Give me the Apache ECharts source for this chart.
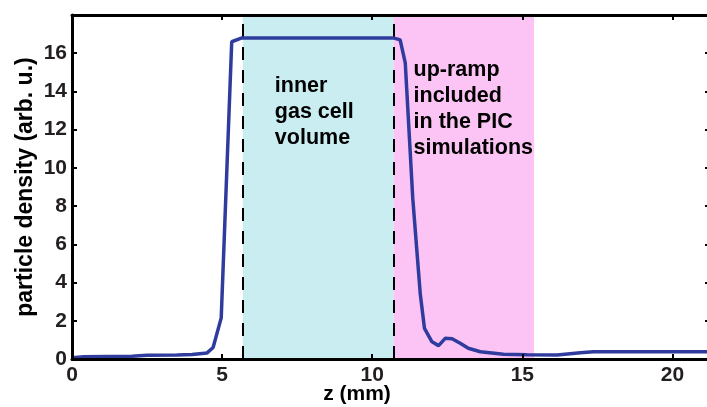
<!DOCTYPE html>
<html>
<head>
<meta charset="utf-8">
<script src="https://cdn.jsdelivr.net/npm/echarts@6/dist/echarts.min.js"></script>
<style>
  html, body { margin: 0; padding: 0; background: #fff; }
  #chart { width: 707px; height: 407px; }
</style>
</head>
<body>
<div id="chart"></div>
<script>
// density profile along z (mm)
const zValues = [0, 0.4, 2.0, 2.5, 3.5, 4.0, 4.5, 4.7, 4.97, 5.32, 5.66, 10.7, 10.93, 11.1, 11.35, 11.6, 11.74, 11.99, 12.21, 12.43, 12.66, 12.93, 13.2, 13.6, 14.37, 15.15, 16.16, 16.93, 17.37, 21.25]
const density = [0.07, 0.12, 0.15, 0.19, 0.21, 0.24, 0.32, 0.6, 2.15, 16.6, 16.8, 16.8, 16.7, 15.5, 8.4, 3.4, 1.6, 0.9, 0.7, 1.08, 1.06, 0.82, 0.56, 0.38, 0.25, 0.22, 0.21, 0.33, 0.38, 0.38]

// shaded zones and their borders
const innerCell = [5.69, 10.71]
const upRamp = [10.71, 15.39]
const dashedAt = [5.69, 10.71]

const innerLabel = 'inner\ngas cell\nvolume'
const rampLabel = 'up-ramp\nincluded\nin the PIC\nsimulations'

const font = '"Liberation Sans", Arial, sans-serif'
const ink = '#231f20'

const chart = echarts.init(document.getElementById('chart'))

const axisBase = {
  axisLine: { onZero: false, lineStyle: { color: '#000', width: 3 } },
  axisTick: { inside: true, length: 5, lineStyle: { color: '#000', width: 2 } },
  splitLine: { show: false },
  z: 10
}

const annot = {
  show: true,
  position: 'insideTopLeft',
  distance: 0,
  color: '#000',
  fontFamily: font,
  fontWeight: 'bold',
  fontSize: 21.5,
  lineHeight: 26
}

chart.setOption({
  animation: false,
  grid: { left: 72, right: -3, top: 15, bottom: 48, outerBoundsMode: 'none', containLabel: false },
  xAxis: [
    {
      ...axisBase,
      type: 'value',
      min: 0, max: 21.25, interval: 5,
      name: 'z (mm)',
      nameLocation: 'middle',
      nameGap: 25,
      nameMoveOverlap: false,
      nameTextStyle: { color: '#000', fontFamily: font, fontWeight: 'bold', fontSize: 21, padding: [0, 68, 0, 0] },
      axisLabel: {
        color: ink, fontFamily: font, fontWeight: 'bold', fontSize: 21, margin: 6,
        formatter: v => (v % 5 === 0 ? String(v) : '')
      }
    },
    {
      ...axisBase,
      type: 'value', position: 'top',
      min: 0, max: 21.25, interval: 5,
      axisLabel: { show: false }
    }
  ],
  yAxis: [
    {
      ...axisBase,
      type: 'value',
      min: 0, max: 18, interval: 2,
      name: 'particle density (arb. u.)',
      nameLocation: 'middle',
      nameGap: 35,
      nameMoveOverlap: false,
      nameTextStyle: { color: '#000', fontFamily: font, fontWeight: 'bold', fontSize: 23 },
      axisLabel: {
        color: ink, fontFamily: font, fontWeight: 'bold', fontSize: 21, margin: 5,
        formatter: v => (v < 18 ? String(v) : '')
      }
    },
    {
      ...axisBase,
      type: 'value', position: 'right',
      min: 0, max: 18, interval: 2,
      axisLabel: { show: false }
    }
  ],
  series: [
    {
      type: 'line',
      data: zValues.map((z, i) => [z, density[i]]),
      showSymbol: false,
      symbol: 'none',
      lineStyle: { color: '#2f3c9e', width: 3.5 },
      z: 5,
      markArea: {
        silent: true,
        z: 1,
        data: [
          [
            { xAxis: innerCell[0], itemStyle: { color: '#c9edf1' }, label: { ...annot, offset: [32, 58] } },
            { xAxis: innerCell[1] }
          ],
          [
            { xAxis: upRamp[0], itemStyle: { color: '#fcc4f4' }, label: { ...annot, offset: [20, 42] } },
            { xAxis: upRamp[1] }
          ]
        ].map((pair, i) => {
          pair[0].name = i === 0 ? innerLabel : rampLabel
          return pair
        })
      },
      markLine: {
        silent: true,
        symbol: 'none',
        label: { show: false },
        lineStyle: { color: '#000', width: 2, type: [13, 10] },
        data: dashedAt.map(x => ({ xAxis: x }))
      }
    }
  ]
})
</script>
</body>
</html>
